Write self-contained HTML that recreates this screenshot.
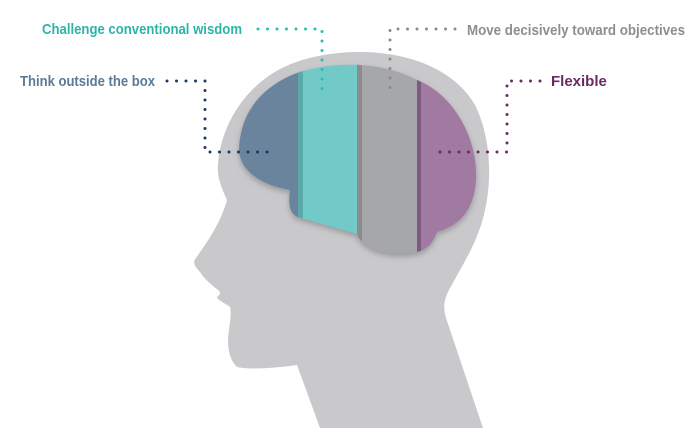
<!DOCTYPE html>
<html><head><style>
html,body{margin:0;padding:0;background:#fff;width:700px;height:428px;overflow:hidden}
svg{display:block}
text{font-family:"Liberation Sans",sans-serif;font-weight:bold;font-size:15px}
</style></head><body>
<svg width="700" height="428" viewBox="0 0 700 428" xmlns="http://www.w3.org/2000/svg">
<defs>
<clipPath id="brain"><path d="M297,73 C330,62 380,60 417,80 C455,95 478,140 476,180 C474,210 460,225 437,232 C432,245 425,252 410,253 C385,256 362,248 357,234 L298,217 C290,214 288,205 290,190 C260,185 240,170 239,150 C240,110 265,85 297,73 Z"/></clipPath>
<filter id="sh" x="-10%" y="-10%" width="120%" height="120%"><feGaussianBlur stdDeviation="3"/></filter>
</defs>
<path d="M320,428 L297,365 C275,368 250,370 237,367 C230,360 228,350 228,340 C229,325 232,315 230,307 C225,303 217,300 217,297 C222,293 220,292 218,290 C212,285 205,280 200,272 C195,267 192,262 196,258 C205,245 220,225 227,200 C220,185 217,175 218,165 C220,130 240,95 270,75 C295,58 330,52 360,52 C410,52 455,70 475,105 C490,135 492,175 486,205 C480,240 462,265 448,292 C444,300 443,308 446,318 L483,428 Z" fill="#c9c9cc"/>
<path d="M297,73 C330,62 380,60 417,80 C455,95 478,140 476,180 C474,210 460,225 437,232 C432,245 425,252 410,253 C385,256 362,248 357,234 L298,217 C290,214 288,205 290,190 C260,185 240,170 239,150 C240,110 265,85 297,73 Z" fill="#9a9a9e" filter="url(#sh)" transform="translate(0,3)"/>
<g clip-path="url(#brain)">
<rect x="230" y="50" width="70" height="220" fill="#6a849e"/>
<rect x="298" y="50" width="60" height="220" fill="#72cac8"/>
<rect x="298" y="50" width="5" height="220" fill="#5aa9a8"/>
<rect x="357" y="50" width="61" height="220" fill="#a6a7a9"/>
<rect x="357" y="50" width="5" height="220" fill="#8b8c8e"/>
<rect x="417" y="50" width="65" height="220" fill="#a07aa0"/>
<rect x="417" y="50" width="4" height="220" fill="#7f5a80"/>
</g>
<g fill="none" stroke-width="3" stroke-linecap="round" stroke-dasharray="0 9.5">
<path d="M167,81 L205,81 L205,152 L273,152" stroke="#1d3a63"/>
<path d="M258,29 L322,29 L322,90" stroke="#2bbfb3"/>
<path d="M455,29 L390,29 L390,90" stroke="#8a8a8c"/>
<path d="M540,81 L507,81 L507,152 L438,152" stroke="#6b2d5e"/>
</g>
<text x="42" y="34" fill="#2bb5a8" textLength="200" lengthAdjust="spacingAndGlyphs">Challenge conventional wisdom</text>
<text x="20" y="86" fill="#5a7a98" textLength="135" lengthAdjust="spacingAndGlyphs">Think outside the box</text>
<text x="467" y="35" fill="#8e8e90" textLength="218" lengthAdjust="spacingAndGlyphs">Move decisively toward objectives</text>
<text x="551" y="86" fill="#6b2a63">Flexible</text>
</svg>
</body></html>
